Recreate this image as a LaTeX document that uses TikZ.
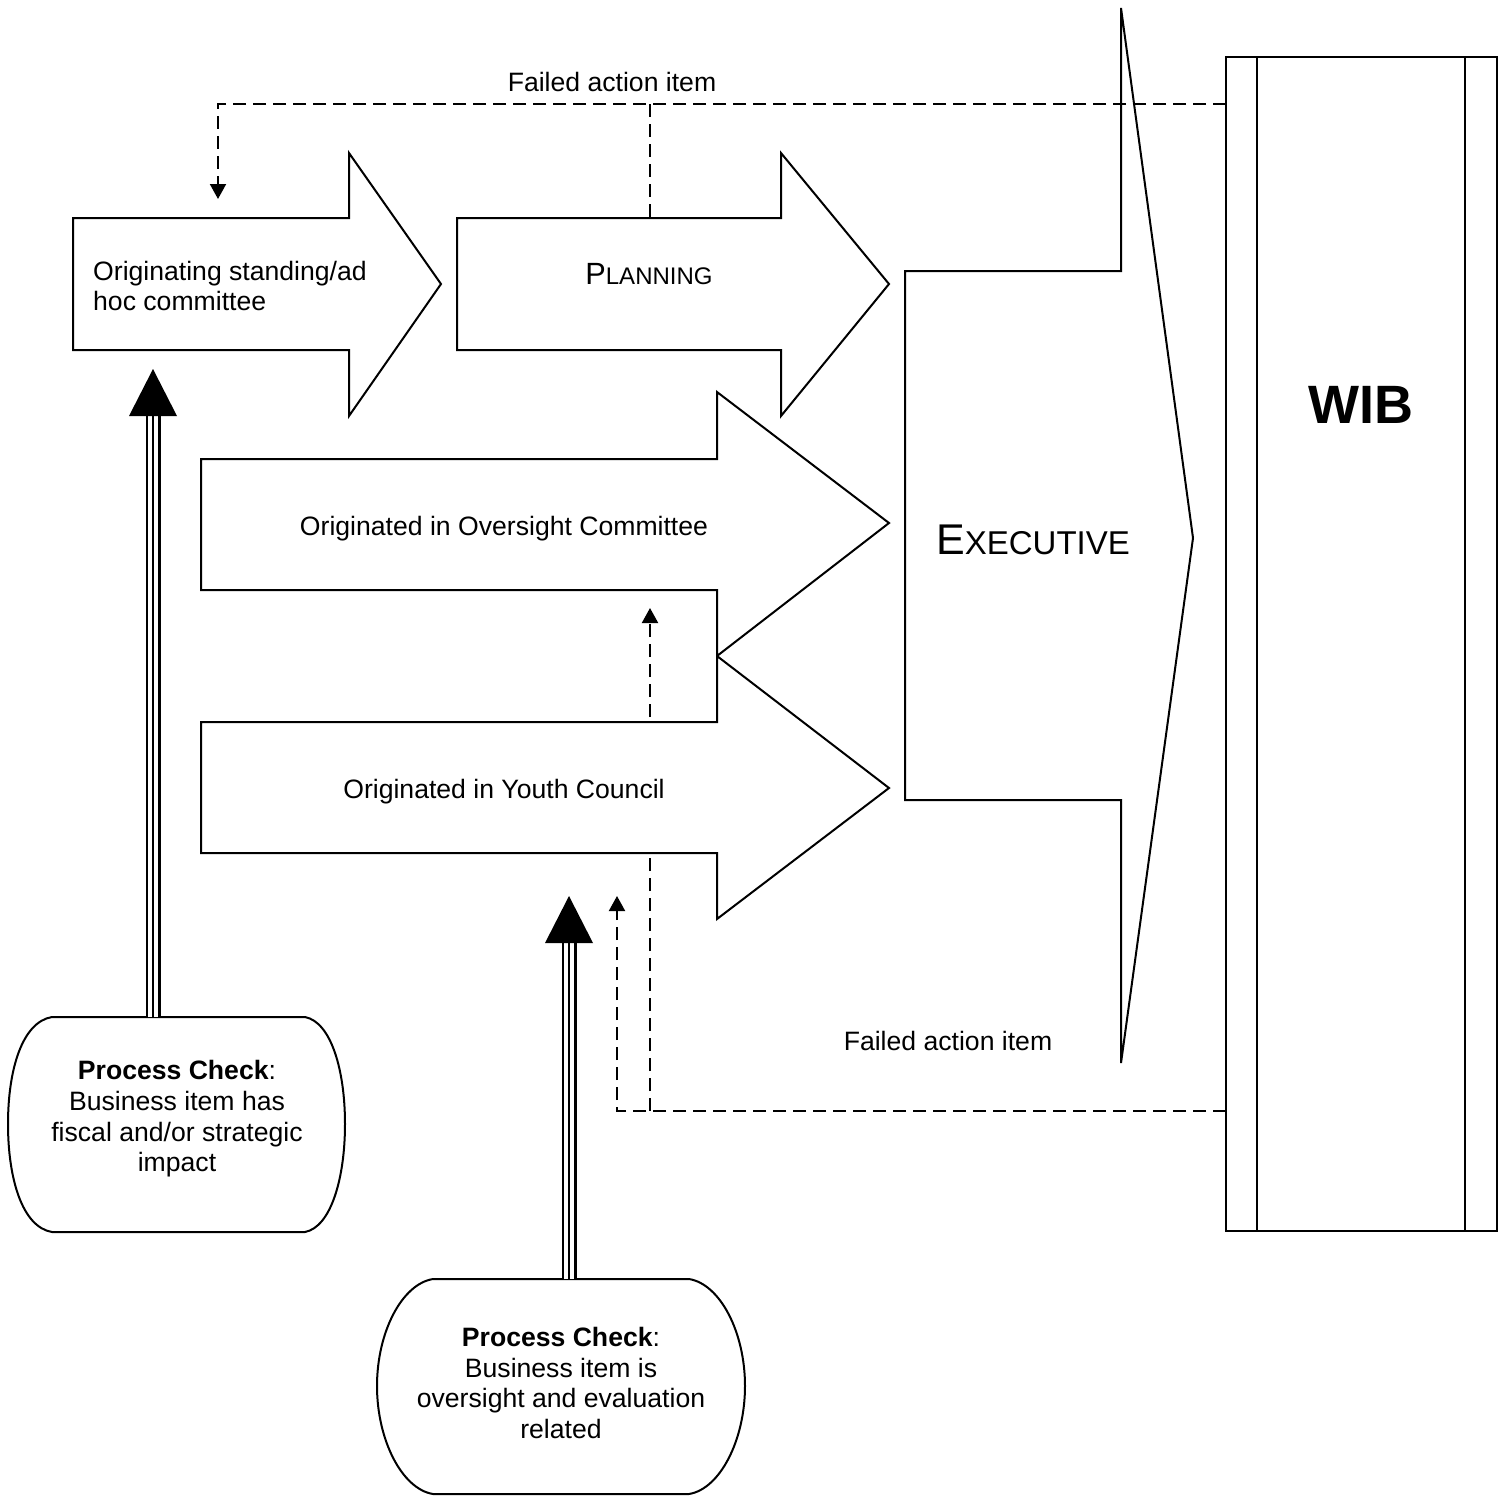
\documentclass[tikz,border=0pt]{standalone}
\usepackage{fontspec}
\setmainfont{Liberation Sans}
\usetikzlibrary{arrows.meta}
\tikzset{
  outline/.style={draw=black, line width=2pt, line join=miter},
  failline/.style={draw=black, line width=2pt, dash pattern=on 13pt off 7pt},
  failtip/.style={-{Triangle[width=16pt,length=15pt]}},
  lbl/.style={inner sep=0pt, font=\fontsize{26.6}{30.7}\selectfont},
  tripleA/.style={draw=black, line width=15pt},
  tripleB/.style={draw=white, line width=10pt},
  tripleC/.style={draw=black, line width=2.5pt},
  tiphead/.style={fill=black, draw=none}
}
\begin{document}
\begin{tikzpicture}[x=1pt,y=-1pt]
\useasboundingbox (0,0) rectangle (1504,1496);
% coordinates
\coordinate (plantop) at (650,218);
\coordinate (youthbot) at (650,853);
\coordinate (youthtop) at (650,717);
\coordinate (wibtop) at (1226,104);
\coordinate (wibbot) at (1226,1111);
\coordinate (pc1top) at (153,1017);
\coordinate (pc2top) at (569,1279);
\coordinate (a1bot) at (153,369);
\coordinate (youthhead) at (569,896);

% Originating arrow
\draw[outline] (73,218) -- (349,218) -- (349,153) -- (441,284) -- (349,416) -- (349,350) -- (73,350) -- cycle;
\node[lbl, align=left, anchor=west] (orig) at (93,286) {Originating standing/ad\\hoc committee};

% Planning arrow
\draw[outline] (457,218) -- (781,218) -- (781,153) -- (889,284) -- (781,416) -- (781,350) -- (457,350) -- cycle;
\node[inner sep=0pt] (plan) at (649,274) {{\fontsize{30.7}{30}\selectfont P}{\fontsize{24}{24}\selectfont LANNING}};

% Oversight arrow
\draw[outline] (201,459) -- (717,459) -- (717,392) -- (889,523) -- (717,656) -- (717,590) -- (201,590) -- cycle;
\node[lbl] (over) at (504,529) {Originated in Oversight Committee};

% Youth arrow
\draw[outline] (201,722) -- (717,722) -- (717,656) -- (889,788) -- (717,919) -- (717,853) -- (201,853) -- cycle;
\node[lbl] (youth) at (504,792) {Originated in Youth Council};

% Executive
\draw[outline] (905,271) -- (1121,271) -- (1121,8) -- (1193,538) -- (1121,1063) -- (1121,800) -- (905,800) -- cycle;
\node[inner sep=0pt] (exec) at (1033,540) {{\fontsize{43}{43}\selectfont E}{\fontsize{33}{33}\selectfont XECUTIVE}};

% WIB
\draw[outline] (1226,57) rectangle (1497,1231);
\draw[outline] (1257,57) -- (1257,1231);
\draw[outline] (1465,57) -- (1465,1231);
\node[inner sep=0pt, font=\fontsize{54}{54}\selectfont\bfseries] (wib) at (1361,405) {WIB};

% Process checks
\draw[outline] (52,1017) -- (305,1017) .. controls (331,1022) and (345,1070) .. (345,1124) .. controls (345,1178) and (331,1227) .. (305,1232) -- (52,1232) .. controls (22,1227) and (8,1178) .. (8,1124) .. controls (8,1070) and (22,1022) .. (52,1017) -- cycle;
\node[lbl, align=center] (pc1) at (177,1119) {\textbf{Process Check}:\\Business item has\\fiscal and/or strategic\\impact};

\draw[outline] (433,1279) -- (689,1279) .. controls (720,1284) and (745,1332) .. (745,1386) .. controls (745,1440) and (720,1489) .. (689,1494) -- (433,1494) .. controls (402,1489) and (377,1440) .. (377,1386) .. controls (377,1332) and (402,1284) .. (433,1279) -- cycle;
\node[lbl, align=center] (pc2) at (561,1383) {\textbf{Process Check}:\\Business item is\\oversight and evaluation\\related};

% triple arrows
\foreach \s in {tripleA,tripleB,tripleC}{
  \draw[\s] (pc1top) -- (153,416);
  \draw[\s] (pc2top) -- (569,943);
}
\fill[tiphead] (129,416) -- (177,416) -- (a1bot) -- cycle;
\fill[tiphead] (545,943) -- (593,943) -- (youthhead) -- cycle;

% dashed failed action lines
\draw[failline, failtip] (wibtop) -- (218,104) -- (218,199);
\draw[failline] (650,104) -- (plantop);
\node[lbl] (fail1) at (612,82) {Failed action item};

\draw[failline, failtip] (wibbot) -- (617,1111) -- (617,896);
\draw[failline] (650,1111) -- (youthbot);
\node[lbl] (fail2) at (948,1041) {Failed action item};

\draw[failline, failtip] (youthtop) -- (650,608);
\end{tikzpicture}
\end{document}
